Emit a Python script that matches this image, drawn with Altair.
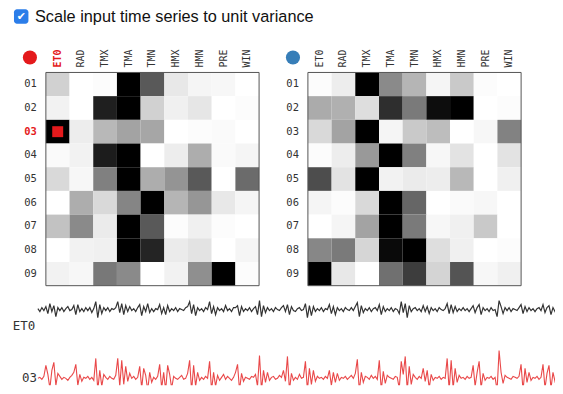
import altair as alt
import pandas as pd

# ---------------- data ----------------
columns = ["ET0", "RAD", "TMX", "TMA", "TMN", "HMX", "HMN", "PRE", "WIN"]
rows = ["01", "02", "03", "04", "05", "06", "07", "08", "09"]

# grey level, 0 = white, 1 = black
left_values = [
    [0.18, 0.00, 0.01, 1.00, 0.65, 0.09, 0.04, 0.03, 0.00],
    [0.05, 0.00, 0.88, 1.00, 0.18, 0.06, 0.10, 0.00, 0.01],
    [1.00, 0.07, 0.28, 0.36, 0.35, 0.00, 0.01, 0.02, 0.00],
    [0.02, 0.05, 0.89, 1.00, 0.00, 0.07, 0.32, 0.02, 0.04],
    [0.15, 0.03, 0.50, 1.00, 0.32, 0.42, 0.65, 0.00, 0.58],
    [0.00, 0.32, 0.15, 0.48, 1.00, 0.29, 0.41, 0.09, 0.04],
    [0.24, 0.46, 0.08, 1.00, 0.65, 0.01, 0.06, 0.01, 0.00],
    [0.00, 0.05, 0.06, 1.00, 0.86, 0.08, 0.11, 0.00, 0.04],
    [0.05, 0.03, 0.53, 0.46, 0.00, 0.05, 0.44, 1.00, 0.01],
]
right_values = [
    [0.01, 0.07, 1.00, 0.46, 0.29, 0.04, 0.21, 0.01, 0.00],
    [0.33, 0.31, 0.13, 0.82, 0.52, 0.95, 1.00, 0.00, 0.01],
    [0.15, 0.36, 1.00, 0.04, 0.21, 0.26, 0.00, 0.03, 0.49],
    [0.01, 0.07, 0.40, 1.00, 0.50, 0.03, 0.11, 0.00, 0.11],
    [0.70, 0.11, 1.00, 0.05, 0.08, 0.07, 0.28, 0.00, 0.06],
    [0.04, 0.01, 0.15, 1.00, 0.60, 0.00, 0.02, 0.03, 0.00],
    [0.00, 0.04, 0.36, 1.00, 0.52, 0.03, 0.06, 0.21, 0.00],
    [0.47, 0.52, 0.16, 0.96, 1.00, 0.13, 0.06, 0.00, 0.01],
    [1.00, 0.09, 0.00, 0.56, 0.76, 0.17, 0.67, 0.03, 0.06],
]

selected_col = "ET0"
selected_row = "03"

et0_series = [
    1, -2, 2, -1,
    3, -4, 6, -2, 4, -7, 2,
    -1, 2, -2, 1, 3, -1, 0,
    4, -5, 5, -2, 1,
    -2, 2, -1, 2, -3, 1,
    8, -8, 5, -4, 2,
    -1, 2, -2, 1, 0, 2,
    8, -3, 6, -5, 4, -2, 3,
    -1, 1, -2, 2,
    5, -6, 3, -2, 6, -3, 1,
    -2, 1, 0,
    5, -4, 2, -5, 4, -2, 1,
    -1, 2, -2, 1, 0, -1, 2,
    3, 8, -4, 5, -6, 2, -1,
    1, -2, 2, 0,
    8, -4, 3, -5, 2, -1,
    1, -2, 4, -1, 1, -2, 2,
    2, 4, -6, 3, -2,
    1, -1, 2, -2, 1,
    3, -5, 9, -7, 4, -3, 2, -1,
    1, -2, 2, 0, -1, 2,
    4, -2, 5, -5, 3, -1,
    -2, 1, 2, -1, 0,
    6, -8, 4, -6, 3, -2, 1,
    -1, 2, -2, 1, 0,
    5, -4, 3, -5, 2, -1,
    1, -2, 2, 0, -1, 2, -1,
    3, 7, -7, 4, -3, 1,
    -1, 2, -2, 1, 2, -1,
    5, -5, 3, -2, 1,
    -1, 2, -2, 1, 0,
    -4, 8, -3, 6, -8, 4, -2, 1,
    2, -1, 1, -2,
    4, -2, 3, -4, 2, -1,
    1, -2, 2, 0, -1, 1,
    6, -4, 5, -3, 3, -2, 1,
    -1, 2, -1, 1, -2, 1,
    4, -3, 2, 5, -5, 2, -1,
    1, -2, 2, -1, 0,
    -7, 9, 3, -4, 2,
    -1, 2, -2, 1, 0, -1, 2,
    5, -4, 3, -2, 2, -1, 1,
    -2, 1, 2, -1,
    5, -3, 2, 4, -5, 2, -2, 1, 0,
    1, -1,
]

s03_series = [
    0, 1, -1, 2,
    13, 4, -10, 8, 16, -7, 5,
    2, -1, 1, 0, -2, 1, 3,
    6, 14, -7, 4, -3,
    1, 0, 2, -1, 1, -2,
    20, -12, 8, -8, 4,
    1, -1, 2, 0, -1, 3,
    20, -8, 18, -6, 12, -3, 5,
    0, 2, -1, 1,
    12, -10, 10, 3, -12, 6, -4,
    1, -1, 2,
    14, -10, 6, -12, 13, 4, -10,
    2, 0, -1, 1, 3, -1, 0,
    5, 18, -13, 13, -8, 6, -2,
    1, -1, 2, 0,
    17, -12, 6, -8, 3, -2,
    1, 4, -1, 2, 0, -2, 1,
    6, 14, -12, 5, -3,
    1, 0, -1, 2, 1,
    4, -8, 23, -12, 8, -4, 6, -2,
    1, 2, -1, 0, 3, 1,
    8, -3, 22, -12, 5, -2,
    1, -1, 4, 0, 1,
    17, -12, 10, -6, 8, -3, 2,
    0, 1, -1, 2, 0,
    8, -7, 6, -4, 5, -2,
    1, 0, 2, -1, 1, 3, 0,
    5, 19, -13, 6, -4, 2,
    1, -1, 3, 0, 2, -1,
    18, -12, 7, -5, 3,
    1, 0, -1, 2, 1,
    -10, 17, 4, 22, -12, 12, -6, 4,
    1, -1, 2, 0,
    10, -3, 8, -10, 4, -2,
    1, 0, 2, -1, 1, 0,
    20, -12, 18, -10, 10, -4, 3,
    0, 1, -1, 2, 0, 1,
    13, -8, 6, 17, -10, 5, -2,
    1, 0, 2, -1, 1,
    -12, 28, 6, -5, 3,
    1, 0, -1, 2, 1, 0, 2,
    14, -12, 10, -4, 6, -2, 1,
    0, 2, -1, 1,
    14, -10, 5, 13, -10, 6, -3, 2, 1,
    0, 1,
]

checkbox_label = "Scale input time series to unit variance"

# ---------------- layout / styling ----------------
RED = "#e41a1c"
BLUE = "#377eb8"
MONO = "DejaVu Sans Mono"
LABEL = "#333333"
W, H = 543, 378                 # single plot area (page x 12..555, y 8..386)
HEAT_Y = [64, 278]              # heatmap vertical extent
HEAT1_X = [32, 246]
HEAT2_X = [295, 509]
LINE_X = [24, 551]              # the series run on past the right edge (clipped)


def heat_df(m):
    return pd.DataFrame(
        [{"row": r, "col": c, "v": m[i][j]} for i, r in enumerate(rows) for j, c in enumerate(columns)]
    )


def one():
    return pd.DataFrame({"k": [0]})


def heat_layers(m, xr, dot_color, dot_x, highlight):
    xs = alt.Scale(domain=columns, range=xr, paddingInner=0, paddingOuter=0)
    ys = alt.Scale(domain=rows, range=HEAT_Y, paddingInner=0, paddingOuter=0)
    cells = alt.Chart(heat_df(m)).mark_rect().encode(
        x=alt.X("col:N", scale=xs, axis=None),
        y=alt.Y("row:N", scale=ys, axis=None),
        color=alt.Color("v:Q", scale=alt.Scale(domain=[0, 1], range=["#ffffff", "#000000"], interpolate="rgb"),
                        legend=None),
    )
    frame = alt.Chart(one()).mark_rect(fill="white", fillOpacity=0, stroke="#555555", strokeWidth=1).encode(
        x=alt.value(xr[0]), x2=alt.value(xr[1]), y=alt.value(HEAT_Y[0]), y2=alt.value(HEAT_Y[1]))
    col_df = pd.DataFrame({"col": columns})
    row_df = pd.DataFrame({"row": rows})
    sel_c = selected_col if highlight else "__none__"
    sel_r = selected_row if highlight else "__none__"
    col_lab = alt.Chart(col_df).transform_filter(alt.datum.col != sel_c).mark_text(
        angle=270, align="left", baseline="middle", font=MONO, fontSize=10, color=LABEL).encode(
        x=alt.X("col:N", scale=xs, axis=None), y=alt.value(HEAT_Y[0] - 5), text="col:N")
    row_lab = alt.Chart(row_df).transform_filter(alt.datum.row != sel_r).mark_text(
        align="right", baseline="middle", font=MONO, fontSize=10.5, color=LABEL).encode(
        y=alt.Y("row:N", scale=ys, axis=None), x=alt.value(xr[0] - 9), text="row:N")
    dot = alt.Chart(one()).mark_circle(size=201, opacity=1, color=dot_color).encode(
        x=alt.value(dot_x), y=alt.value(49))
    layers = [cells, frame, col_lab, row_lab, dot]
    if highlight:
        col_sel = alt.Chart(col_df).transform_filter(alt.datum.col == sel_c).mark_text(
            angle=270, align="left", baseline="middle", font=MONO, fontSize=10, fontWeight="bold",
            color=RED).encode(x=alt.X("col:N", scale=xs, axis=None), y=alt.value(HEAT_Y[0] - 5), text="col:N")
        row_sel = alt.Chart(row_df).transform_filter(alt.datum.row == sel_r).mark_text(
            align="right", baseline="middle", font=MONO, fontSize=10.5, fontWeight="bold",
            color=RED).encode(y=alt.Y("row:N", scale=ys, axis=None), x=alt.value(xr[0] - 9), text="row:N")
        sq = alt.Chart(pd.DataFrame({"col": [sel_c], "row": [sel_r]})).mark_square(
            size=121, opacity=1, color=RED).encode(
            x=alt.X("col:N", scale=xs, axis=None), y=alt.Y("row:N", scale=ys, axis=None))
        layers += [col_sel, row_sel, sq]
    return layers


def line_layers(values, color, opacity, width, domain, yr, label, label_x, label_y):
    df = pd.DataFrame({"t": list(range(len(values))), "v": values})
    line = alt.Chart(df).mark_line(color=color, strokeWidth=width, opacity=opacity, clip=True).encode(
        x=alt.X("t:Q", scale=alt.Scale(domain=[0, len(values) - 1], range=LINE_X, nice=False, zero=False), axis=None),
        y=alt.Y("v:Q", scale=alt.Scale(domain=domain, range=yr, nice=False, zero=False), axis=None),
    )
    txt = alt.Chart(pd.DataFrame({"label": [label]})).mark_text(
        align="right", baseline="middle", font=MONO, fontSize=12.5, color=LABEL).encode(
        text="label:N", x=alt.value(label_x), y=alt.value(label_y))
    return [line, txt]


# header with the (drawn) checkbox
hdr_df = pd.DataFrame({"label": [checkbox_label]})
box = alt.Chart(hdr_df).mark_rect(cornerRadius=3, color="#2b7de9").encode(
    x=alt.value(0), x2=alt.value(14.5), y=alt.value(0.5), y2=alt.value(15))
tick = alt.Chart(hdr_df).mark_text(text="✔", color="white", font="DejaVu Sans", fontSize=11,
                                   align="center", baseline="middle").encode(
    x=alt.value(7.3), y=alt.value(8))
hdr_txt = alt.Chart(hdr_df).mark_text(align="left", baseline="middle", font="Liberation Sans",
                                      fontSize=16.35, color="#111111").encode(
    text="label:N", x=alt.value(21), y=alt.value(8.5))

layers = [box, tick, hdr_txt]
layers += heat_layers(left_values, HEAT1_X, RED, 16, True)
layers += heat_layers(right_values, HEAT2_X, BLUE, 280, False)
layers += line_layers(et0_series, "#333333", 1, 1.2, [-14, 14], [316, 288], "ET0", 21.3, 318)
layers += line_layers(s03_series, RED, 0.8, 1.1, [-7, 29], [378, 342], "03", 23, 371)

chart = alt.layer(*layers).resolve_scale(
    x="independent", y="independent", color="independent"
).properties(
    width=W, height=H,
    padding={"left": 4, "top": 0, "right": 0, "bottom": 0},
).configure_view(strokeWidth=0)

chart.save("out.html", embed_options={"renderer": "svg", "actions": False})
